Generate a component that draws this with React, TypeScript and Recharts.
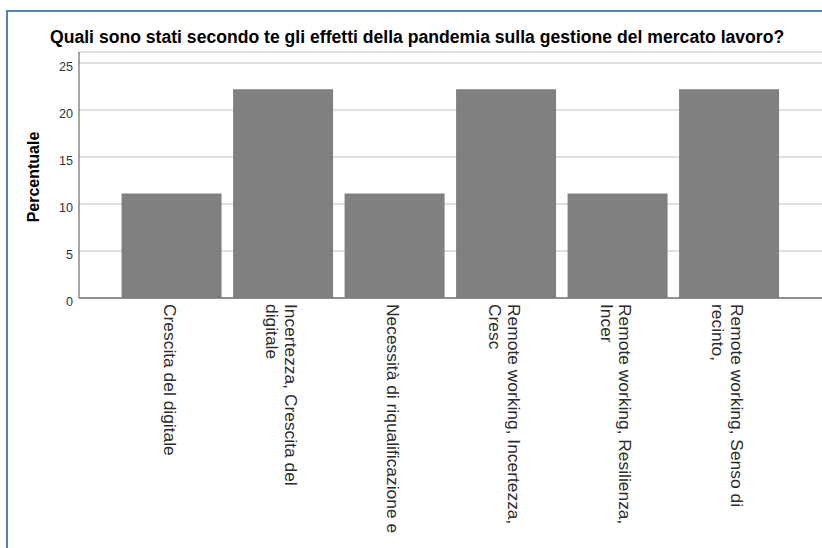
import React from "react";
import { BarChart, Bar, XAxis, YAxis, CartesianGrid } from "recharts";

const categories = [
  "Crescita del digitale",
  "Incertezza, Crescita del\ndigitale",
  "Necessità di riqualificazione e",
  "Remote working, Incertezza,\nCresc",
  "Remote working, Resilienza,\nIncer",
  "Remote working, Senso di\nrecinto,",
];
const percentuale = [11.11, 22.22, 11.11, 22.22, 11.11, 22.22];
const yTicks = [0, 5, 10, 15, 20, 25];
const title =
  "Quali sono stati secondo te gli effetti della pandemia sulla gestione del mercato lavoro?";
const yLabel = "Percentuale";

const data = categories.map((name, i) => ({ name, value: percentuale[i] }));

const FONT = "'Liberation Sans', Arial, sans-serif";
const XFS = 17.4;
const LH = 18.8;

const XTick = (props: any) => {
  const { x, y, payload } = props;
  const lines: string[] = String(payload.value).split("\n");
  const n = lines.length;
  const b1 = 1.5 + 0.358 * XFS - ((n - 1) * LH) / 2;
  return (
    <text
      transform={`translate(${x},${y}) rotate(90)`}
      x={0}
      y={0}
      textAnchor="start"
      fontFamily={FONT}
      fontSize={XFS}
      fill="#2b2b2b"
    >
      {lines.map((l, i) => (
        <tspan key={i} x={0} dy={i === 0 ? b1 : LH}>
          {l}
        </tspan>
      ))}
    </text>
  );
};

const YTick = (props: any) => {
  const { x, y, payload } = props;
  return (
    <text
      x={x}
      y={y + 3.3}
      dy="0.355em"
      textAnchor="end"
      fontFamily={FONT}
      fontSize={12.6}
      fill="#333"
    >
      {payload.value}
    </text>
  );
};

export default function App() {
  return (
    <div
      style={{
        position: "absolute",
        left: 0,
        top: 0,
        width: 822,
        height: 548,
        background: "#fff",
        overflow: "hidden",
      }}
    >
      <div
        style={{
          position: "absolute",
          left: 6,
          top: 10,
          width: 816,
          height: 538,
          borderLeft: "2px solid #4f81bd",
          borderTop: "2px solid #4f81bd",
          boxSizing: "border-box",
        }}
      />
      <div style={{ position: "absolute", left: 0, top: 0 }}>
        <BarChart
          width={822}
          height={548}
          data={data}
          margin={{ top: 52, right: 0, bottom: 0, left: 0 }}
          barCategoryGap="5%"
        >
          <CartesianGrid
            vertical={false}
            stroke="#d6d6d6"
            strokeWidth={1.5}
          />
          <XAxis
            dataKey="name"
            interval={0}
            height={250}
            padding={{ left: 37, right: 37 }}
            tickLine={false}
            tickSize={6}
            tickMargin={0}
            tick={<XTick />}
            stroke="#777"
            strokeWidth={1.3}
          />
          <YAxis
            type="number"
            domain={[0, 26.17]}
            ticks={yTicks}
            width={79}
            tickLine={false}
            tickSize={6}
            tickMargin={0}
            tick={<YTick />}
            stroke="#777"
            strokeWidth={1.3}
          />
          <Bar dataKey="value" fill="#808080" isAnimationActive={false} />
        </BarChart>
      </div>
      <svg
        width={822}
        height={548}
        style={{ position: "absolute", left: 0, top: 0, pointerEvents: "none" }}
      >
        <text
          x={50}
          y={43}
          fontFamily={FONT}
          fontWeight="bold"
          fontSize={17.6}
          fill="#000"
        >
          {title}
        </text>
        <text
          transform="translate(38.7,177) rotate(-90)"
          x={0}
          y={0}
          textAnchor="middle"
          fontFamily={FONT}
          fontWeight="bold"
          fontSize={16}
          fill="#000"
        >
          {yLabel}
        </text>
      </svg>
    </div>
  );
}
